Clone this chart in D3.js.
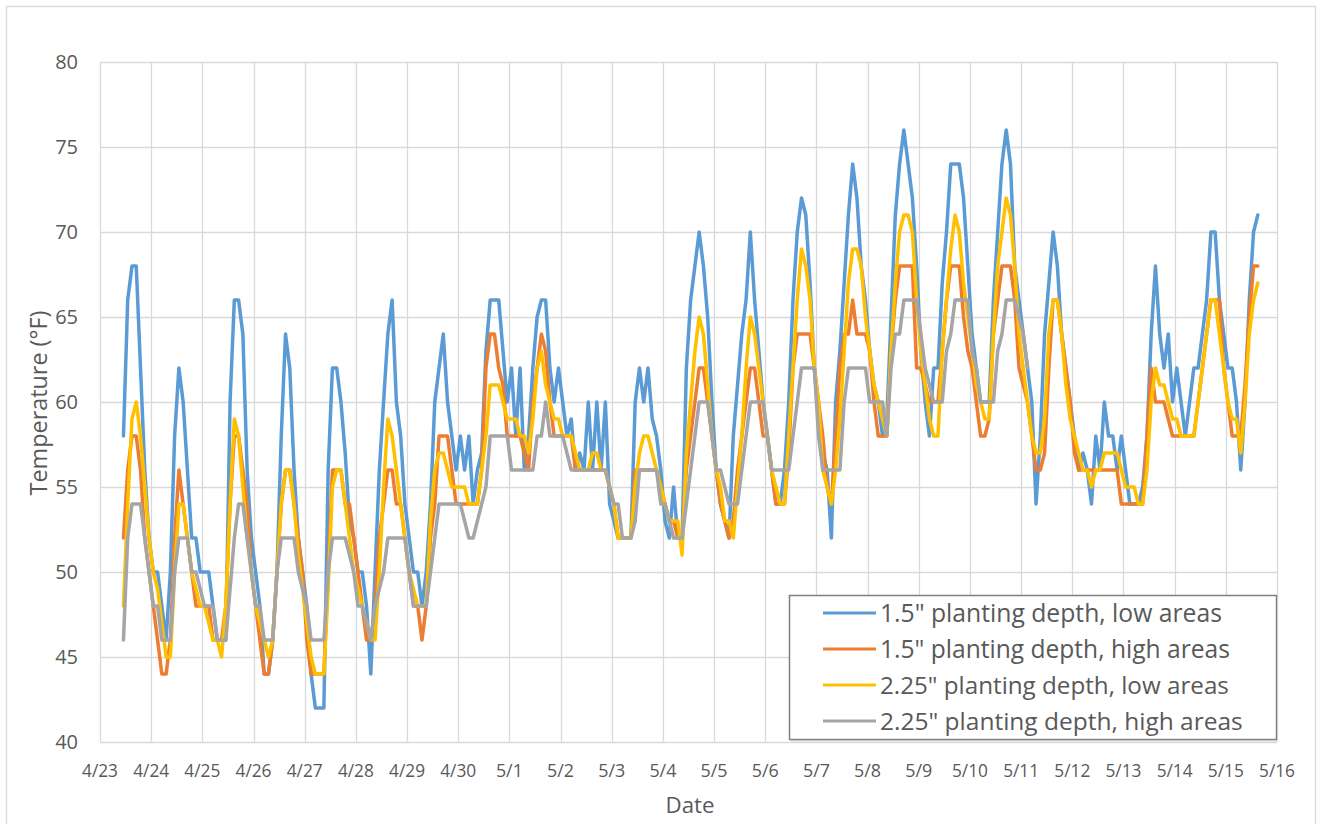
<!DOCTYPE html>
<html>
<head>
<meta charset="utf-8">
<script src="https://cdn.jsdelivr.net/npm/d3@7"></script>
<style>
  html, body { margin: 0; padding: 0; background: #fff; }
  svg { display: block; }
  text { font-family: "Open Sans", Lato, "Liberation Sans", sans-serif; fill: #595959; }
</style>
</head>
<body>
<svg id="chart" width="1318" height="824"></svg>
<script>
// ---------------- DATA ----------------
// Readings every 2 hours, first reading 4/23 11:00, last 5/15 15:00 (°F)
const firstReading = new Date(2021, 3, 23, 11);
const stepHours = 2;

const seriesNames = [
  '1.5" planting depth, low areas',
  '1.5" planting depth, high areas',
  '2.25" planting depth, low areas',
  '2.25" planting depth, high areas'
];
const seriesColors = ["#5B9BD5", "#ED7D31", "#FFC000", "#A5A5A5"];

const shallowLow = [
  58, 66, 68, 68, 62, 56, 52,                         // 4/23
  50, 50, 48, 46, 50, 58, 62, 60, 56, 52, 52, 50,     // 4/24
  50, 50, 48, 46, 46, 46, 60, 66, 66, 64, 56, 52,     // 4/25
  50, 48, 44, 44, 46, 50, 58, 64, 62, 56, 52, 50,     // 4/26
  48, 44, 42, 42, 42, 56, 62, 62, 60, 57, 53, 52,     // 4/27
  50, 50, 48, 44, 50, 56, 60, 64, 66, 60, 58, 54,     // 4/28
  52, 50, 50, 48, 50, 54, 60, 62, 64, 60, 58, 56,     // 4/29
  58, 56, 58, 54, 56, 57, 63, 66, 66, 66, 63, 60,     // 4/30
  62, 58, 62, 56, 58, 62, 65, 66, 66, 62, 60, 62,     // 5/1
  60, 58, 59, 56, 57, 56, 60, 56, 60, 56, 60, 54,     // 5/2
  53, 52, 52, 52, 52, 60, 62, 60, 62, 59, 58, 56,     // 5/3
  53, 52, 55, 52, 52, 62, 66, 68, 70, 68, 65, 60,     // 5/4
  56, 54, 53, 52, 58, 61, 64, 66, 70, 66, 63, 60,     // 5/5
  58, 56, 54, 54, 56, 60, 66, 70, 72, 71, 67, 62,     // 5/6
  59, 57, 56, 52, 60, 63, 67, 71, 74, 72, 68, 66,     // 5/7
  63, 61, 60, 58, 59, 65, 71, 74, 76, 74, 72, 68,     // 5/8
  63, 60, 58, 62, 62, 67, 70, 74, 74, 74, 72, 68,     // 5/9
  64, 62, 60, 60, 60, 66, 70, 74, 76, 74, 68, 66,     // 5/10
  64, 62, 60, 54, 58, 64, 67, 70, 68, 64, 62, 60,     // 5/11
  58, 56, 57, 56, 54, 58, 56, 60, 58, 58, 56, 58,     // 5/12
  56, 54, 54, 54, 55, 58, 64, 68, 64, 62, 64, 60,     // 5/13
  62, 60, 58, 60, 62, 62, 64, 66, 70, 70, 66, 64,     // 5/14
  62, 62, 60, 56, 60, 66, 70, 71                      // 5/15
];

const shallowHigh = [
  52, 56, 58, 58, 56, 52, 50,
  48, 46, 44, 44, 46, 52, 56, 54, 52, 50, 48, 48,
  48, 48, 46, 46, 46, 48, 54, 58, 58, 56, 54, 50,
  48, 46, 44, 44, 46, 50, 54, 56, 56, 54, 52, 50,
  46, 44, 44, 44, 44, 50, 56, 56, 56, 54, 54, 52,
  50, 48, 46, 46, 48, 52, 54, 56, 56, 54, 54, 52,
  50, 48, 48, 46, 48, 52, 54, 58, 58, 58, 56, 54,
  54, 54, 54, 54, 54, 56, 62, 64, 64, 62, 61, 58,
  58, 58, 58, 57, 56, 60, 62, 64, 63, 60, 58, 58,
  58, 58, 58, 56, 56, 56, 56, 56, 56, 56, 56, 55,
  54, 52, 52, 52, 52, 56, 56, 56, 56, 56, 56, 55,
  54, 53, 53, 52, 52, 56, 58, 60, 62, 62, 60, 58,
  56, 54, 53, 52, 53, 56, 58, 60, 62, 62, 60, 58,
  58, 56, 54, 54, 54, 57, 62, 64, 64, 64, 64, 62,
  60, 58, 55, 54, 58, 62, 64, 64, 66, 64, 64, 64,
  63, 60, 58, 58, 58, 63, 66, 68, 68, 68, 68, 62,
  62, 61, 60, 60, 60, 63, 66, 68, 68, 68, 65, 63,
  62, 60, 58, 58, 59, 64, 66, 68, 68, 68, 66, 62,
  61, 60, 58, 56, 56, 57, 62, 66, 66, 64, 62, 60,
  57, 56, 56, 56, 56, 56, 56, 56, 56, 56, 56, 54,
  54, 54, 54, 54, 54, 58, 62, 60, 60, 60, 59, 58,
  58, 58, 58, 58, 58, 60, 62, 64, 66, 66, 66, 62,
  60, 58, 58, 58, 61, 65, 68, 68
];

const deepLow = [
  48, 54, 59, 60, 58, 55, 52,
  50, 49, 47, 45, 45, 50, 54, 54, 52, 50, 49, 48,
  48, 47, 46, 46, 45, 48, 54, 59, 58, 55, 52, 50,
  48, 47, 46, 45, 46, 50, 54, 56, 56, 54, 51, 49,
  47, 45, 44, 44, 44, 49, 55, 56, 56, 54, 52, 50,
  49, 48, 47, 46, 46, 50, 55, 59, 58, 56, 54, 52,
  50, 49, 48, 48, 48, 53, 56, 57, 57, 56, 55, 55,
  55, 55, 54, 54, 54, 56, 58, 61, 61, 61, 60, 59,
  59, 59, 58, 58, 57, 59, 62, 63, 61, 60, 59, 59,
  58, 58, 58, 57, 56, 56, 56, 57, 57, 56, 56, 55,
  54, 52, 52, 52, 52, 55, 57, 58, 58, 57, 56, 55,
  54, 53, 53, 53, 51, 57, 60, 63, 65, 64, 61, 58,
  56, 55, 53, 53, 52, 55, 58, 62, 65, 64, 62, 60,
  58, 56, 55, 54, 54, 58, 62, 66, 69, 68, 66, 62,
  60, 56, 55, 54, 56, 59, 63, 67, 69, 69, 68, 65,
  63, 61, 60, 59, 58, 63, 67, 70, 71, 71, 70, 66,
  63, 61, 59, 58, 58, 63, 66, 69, 71, 70, 67, 65,
  63, 61, 60, 59, 59, 64, 68, 70, 72, 71, 68, 64,
  62, 60, 58, 57, 57, 59, 64, 66, 66, 64, 61, 59,
  58, 57, 56, 56, 55, 56, 56, 57, 57, 57, 57, 56,
  55, 55, 55, 54, 54, 56, 60, 62, 61, 61, 60, 59,
  59, 58, 58, 58, 58, 60, 62, 64, 66, 66, 64, 62,
  60, 59, 59, 57, 60, 64, 66, 67
];

// this sensor stops reporting on 5/11 early morning
const deepHigh = [
  46, 52, 54, 54, 54, 52, 50,
  48, 48, 46, 46, 46, 50, 52, 52, 52, 50, 50, 49,
  48, 48, 48, 46, 46, 46, 49, 52, 54, 54, 52, 50,
  48, 48, 46, 46, 46, 50, 52, 52, 52, 52, 50, 49,
  48, 46, 46, 46, 46, 50, 52, 52, 52, 52, 51, 50,
  48, 48, 47, 46, 48, 49, 50, 52, 52, 52, 52, 52,
  50, 48, 48, 48, 48, 50, 52, 54, 54, 54, 54, 54,
  54, 53, 52, 52, 53, 54, 55, 58, 58, 58, 58, 58,
  56, 56, 56, 56, 56, 56, 58, 58, 60, 58, 58, 58,
  58, 57, 56, 56, 56, 56, 56, 56, 56, 56, 56, 55,
  54, 54, 52, 52, 52, 53, 56, 56, 56, 56, 56, 54,
  54, 53, 52, 52, 52, 54, 56, 58, 60, 60, 60, 58,
  56, 56, 55, 54, 54, 54, 56, 58, 60, 60, 60, 60,
  58, 56, 56, 56, 56, 56, 58, 60, 62, 62, 62, 62,
  58, 56, 56, 56, 56, 56, 60, 62, 62, 62, 62, 62,
  60, 60, 60, 60, 58, 62, 64, 64, 66, 66, 66, 66,
  64, 62, 61, 60, 60, 60, 63, 64, 66, 66, 66, 66,
  63, 62, 60, 60, 60, 60, 63, 64, 66, 66, 66, 65,
  64, 62
];

const yTicks = [40, 45, 50, 55, 60, 65, 70, 75, 80];
const xStart = new Date(2021, 3, 23);
const xEnd = new Date(2021, 4, 16);
const xAxisTitle = "Date";
const yAxisTitle = "Temperature (°F)";

// ---------------- DRAW ----------------
const svg = d3.select("#chart");
const W = 1318, H = 824;
const plot = { left: 100, right: 1277, top: 62, bottom: 742 };

// scale a text's font size so it spans the wanted width
function fitWidth(sel, target) {
  const node = sel.node();
  const fs = parseFloat(sel.attr("font-size"));
  const w = node.getComputedTextLength();
  if (w > 0) sel.attr("font-size", (fs * target / w).toFixed(2));
  return sel;
}

svg.append("rect").attr("width", W).attr("height", H).attr("fill", "#fff");
svg.append("rect")
  .attr("x", 6.5).attr("y", 6.5).attr("width", 1309).attr("height", 830)
  .attr("fill", "none").attr("stroke", "#d9d9d9").attr("stroke-width", 1.3);

const x = d3.scaleTime().domain([xStart, xEnd]).range([plot.left, plot.right]);
const y = d3.scaleLinear().domain([40, 80]).range([plot.bottom, plot.top]);

const days = d3.timeDay.range(xStart, d3.timeDay.offset(xEnd, 1));

// gridlines
const grid = svg.append("g").attr("stroke", "#d9d9d9").attr("stroke-width", 1.3);
grid.selectAll("line.h").data(yTicks).join("line")
  .attr("x1", plot.left).attr("x2", plot.right)
  .attr("y1", d => Math.round(y(d)) + 0.5).attr("y2", d => Math.round(y(d)) + 0.5);
grid.selectAll("line.v").data(days).join("line")
  .attr("y1", plot.top).attr("y2", plot.bottom)
  .attr("x1", d => Math.round(x(d)) + 0.5).attr("x2", d => Math.round(x(d)) + 0.5);

// y tick labels
svg.append("g").selectAll("text").data(yTicks).join("text")
  .attr("x", 78).attr("y", d => y(d)).attr("dy", "0.36em")
  .attr("text-anchor", "end").attr("font-size", 20)
  .text(d => d);

// x tick labels
const fmt = d3.timeFormat("%-m/%-d");
svg.append("g").selectAll("text").data(days).join("text")
  .attr("x", d => x(d)).attr("y", 777)
  .attr("text-anchor", "middle").attr("font-size", 18)
  .text(d => fmt(d))
  .each(function () { fitWidth(d3.select(this), this.textContent.length === 4 ? 36 : 27); });

// axis titles
fitWidth(svg.append("text").attr("x", 690).attr("y", 813)
  .attr("text-anchor", "middle").attr("font-size", 21).text(xAxisTitle), 49);
fitWidth(svg.append("text")
  .attr("transform", "translate(47,403) rotate(-90)")
  .attr("text-anchor", "middle").attr("font-size", 21).text(yAxisTitle), 185);

// series
const allSeries = [shallowLow, shallowHigh, deepLow, deepHigh];
const line = d3.line()
  .x(d => x(d.t)).y(d => y(d.v));

svg.append("clipPath").attr("id", "clip")
  .append("rect").attr("x", plot.left).attr("y", plot.top - 5)
  .attr("width", plot.right - plot.left).attr("height", plot.bottom - plot.top + 5);

const lines = svg.append("g").attr("clip-path", "url(#clip)");
allSeries.forEach((vals, k) => {
  const pts = vals.map((v, i) => ({
    t: d3.timeHour.offset(firstReading, i * stepHours), v
  }));
  lines.append("path")
    .attr("d", line(pts))
    .attr("fill", "none")
    .attr("stroke", seriesColors[k])
    .attr("stroke-width", 3.5)
    .attr("stroke-linejoin", "round")
    .attr("stroke-linecap", "round");
});

// legend
const lg = svg.append("g");
lg.append("rect").attr("x", 791).attr("y", 597).attr("width", 487).attr("height", 145)
  .attr("fill", "#e6e6e6");
lg.append("rect").attr("x", 789.5).attr("y", 595.5).attr("width", 487).attr("height", 144)
  .attr("fill", "#fff").attr("stroke", "#808080").attr("stroke-width", 1.5);
const rowY = [613, 649, 685, 721];
const rowW = [342, 350, 349, 363];
seriesNames.forEach((name, k) => {
  lg.append("line").attr("x1", 823).attr("x2", 876)
    .attr("y1", rowY[k]).attr("y2", rowY[k])
    .attr("stroke", seriesColors[k]).attr("stroke-width", 3);
  fitWidth(lg.append("text").attr("x", 880).attr("y", rowY[k]).attr("dy", "0.36em")
    .attr("font-size", 23).text(name), rowW[k]);
});
</script>
</body>
</html>
